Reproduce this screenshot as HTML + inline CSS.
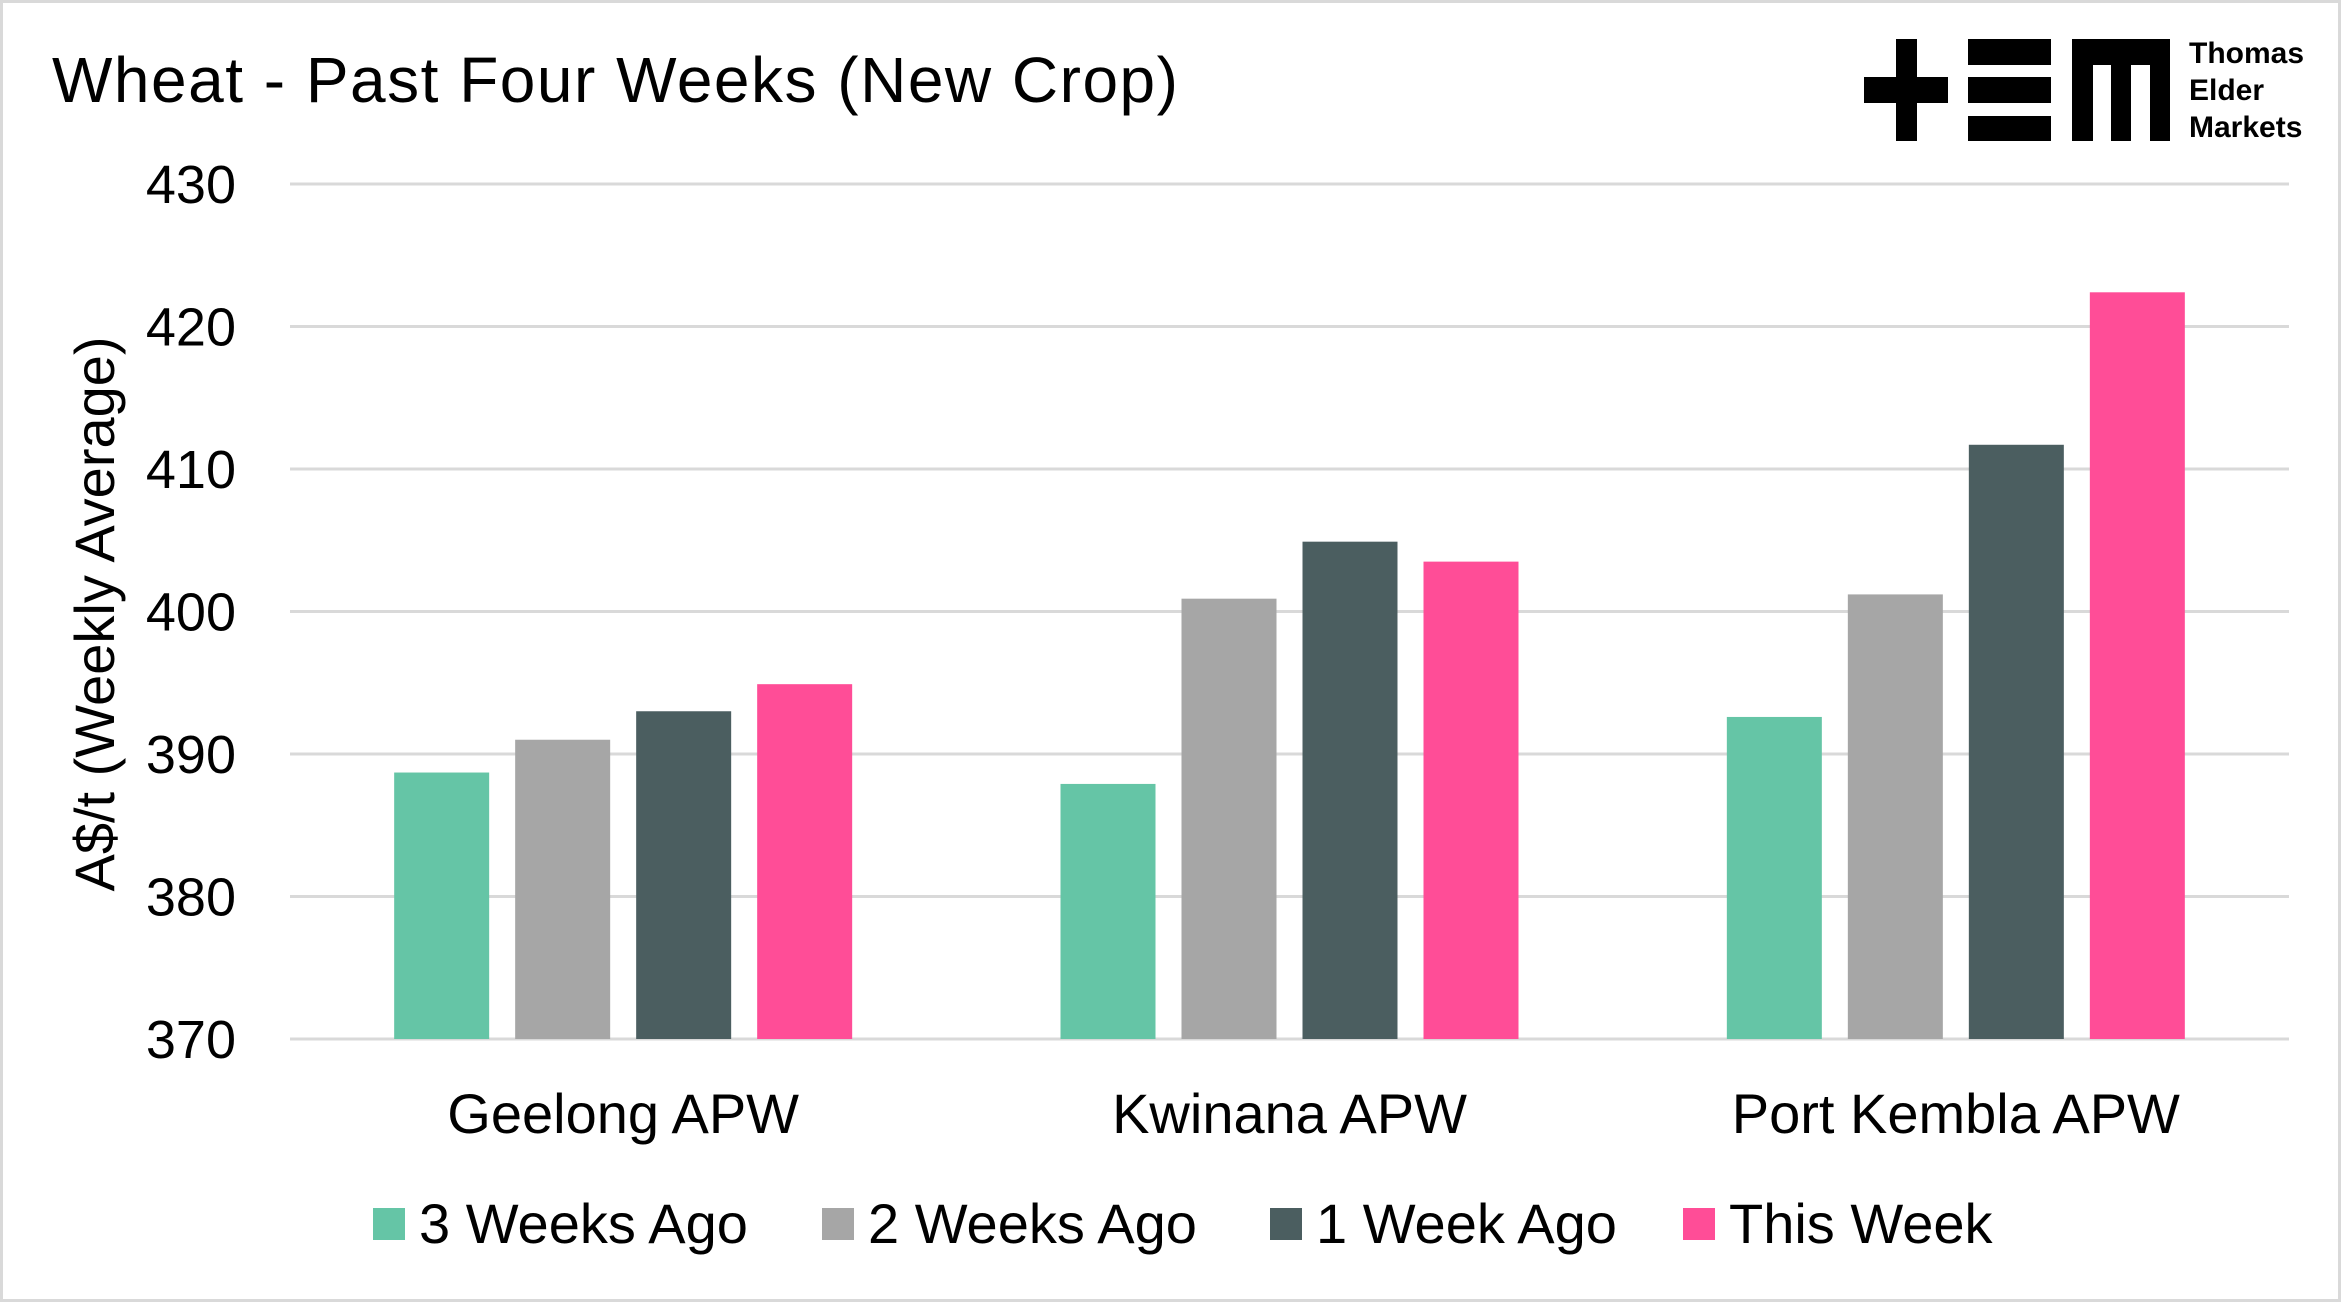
<!DOCTYPE html>
<html><head><meta charset="utf-8"><style>
html,body{margin:0;padding:0;background:#fff;}
body{width:2341px;height:1302px;overflow:hidden;font-family:"Liberation Sans",sans-serif;}
#frame{position:absolute;left:0;top:0;width:2335px;height:1296px;border:3px solid #d9d9d9;}
</style></head><body>
<div id="frame"></div>
<svg id="chart" width="2341" height="1302" style="position:absolute;left:0;top:0">
<text x="52" y="102" font-size="64" letter-spacing="1.5" fill="#000">Wheat - Past Four Weeks (New Crop)</text>
<g>
<rect x="1864" y="77" width="84" height="26" fill="#000"/>
<rect x="1896" y="39" width="21" height="102" fill="#000"/>
<rect x="1968" y="39" width="83" height="26" fill="#000"/>
<rect x="1968" y="77" width="83" height="26" fill="#000"/>
<rect x="1968" y="116" width="83" height="25" fill="#000"/>
<rect x="2072" y="39" width="98" height="26" fill="#000"/>
<rect x="2072" y="39" width="21" height="102" fill="#000"/>
<rect x="2111" y="39" width="20" height="102" fill="#000"/>
<rect x="2150" y="39" width="20" height="102" fill="#000"/>
<text x="2189" y="63" font-size="30" font-weight="bold" fill="#000">Thomas</text>
<text x="2189" y="100" font-size="30" font-weight="bold" fill="#000">Elder</text>
<text x="2189" y="137" font-size="30" font-weight="bold" fill="#000">Markets</text>
</g>
<g id="grid"></g><g id="bars"></g><g id="labels"></g><g id="legend"></g>
<text transform="translate(114,614) rotate(-90)" text-anchor="middle" font-size="56" fill="#000">A$/t (Weekly Average)</text>
</svg>
<script>
const categories = ["Geelong APW","Kwinana APW","Port Kembla APW"];
const seriesNames = ["3 Weeks Ago","2 Weeks Ago","1 Week Ago","This Week"];
const seriesColors = ["#65c5a6","#a6a6a6","#4b5e60","#ff4d97"];
const s3WeeksAgo = [388.7, 387.9, 392.6];
const s2WeeksAgo = [391.0, 400.9, 401.2];
const s1WeekAgo = [393.0, 404.9, 411.7];
const sThisWeek = [394.9, 403.5, 422.4];
const yTicks = [370,380,390,400,410,420,430];
const series=[s3WeeksAgo,s2WeeksAgo,s1WeekAgo,sThisWeek];
const NS="http://www.w3.org/2000/svg";
const L=290,R=2289,T=184,B=1039,yMin=370,yMax=430;
const y=v=>B-(v-yMin)/(yMax-yMin)*(B-T);
const gw=(R-L)/categories.length;
function mk(tag,attrs,parent){const e=document.createElementNS(NS,tag);for(const k in attrs)e.setAttribute(k,attrs[k]);parent.appendChild(e);return e;}
const grid=document.getElementById('grid');
yTicks.forEach(t=>{
 const ln=mk('line',{x1:L,x2:R,y1:y(t),y2:y(t),stroke:'#d9d9d9','stroke-width':3},grid);
 
 
 const tx=mk('text',{x:236,y:y(t)+19,'text-anchor':'end','font-size':54,fill:'#000'},grid);
 tx.textContent=t;
 
 
});
const bars=document.getElementById('bars');
const bw=95,pitch=121;
categories.forEach((c,i)=>{
 const cx=L+gw*(i+0.5);
 series.forEach((s,j)=>{
  const x=cx-2*pitch+(pitch-bw)/2+j*pitch;
  const r=mk('rect',{x:x,y:y(s[i]),width:bw,height:B-y(s[i]),fill:seriesColors[j]},bars);
  
  
 });
 const t=mk('text',{x:cx,y:1133,'text-anchor':'middle','font-size':56,fill:'#000'},document.getElementById('labels'));
 t.textContent=c;
 
 
});
const leg=document.getElementById('legend');
const lx=[373,822,1270,1683];
seriesNames.forEach((n,j)=>{
 const g=mk('g',{},leg);
 
 
 mk('rect',{x:lx[j],y:1208,width:32,height:32,fill:seriesColors[j]},g);
 const t=mk('text',{x:lx[j]+46,y:1243,'font-size':56,fill:'#000'},g);
 t.textContent=n;
});
</script>
</body></html>
